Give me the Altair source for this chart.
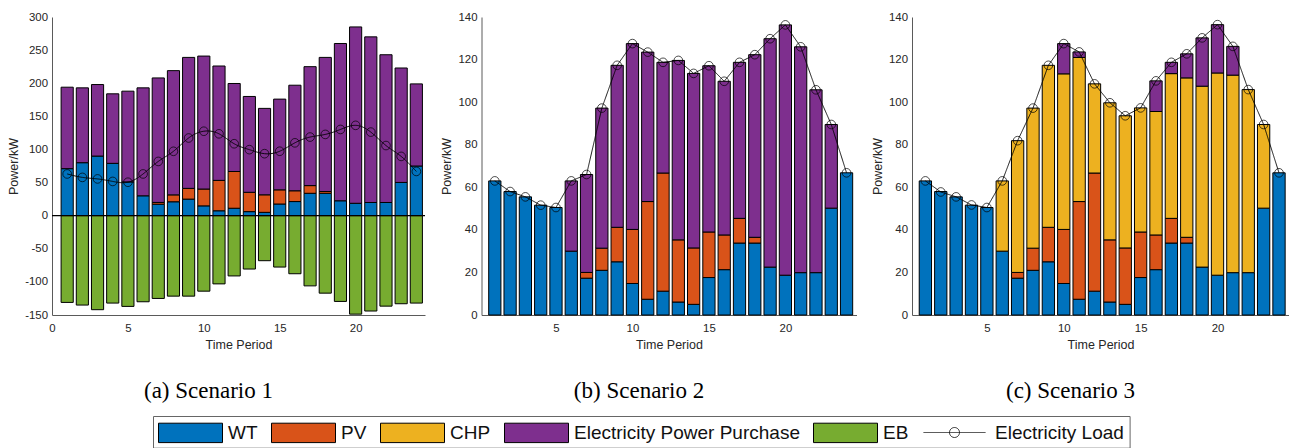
import altair as alt
import pandas as pd

T = list(range(1, 25))

SOURCES = ["WT", "PV", "CHP", "Electricity Power Purchase", "EB"]
COLORS = ["#0072BD", "#D95319", "#EDB120", "#7E2F8E", "#77AC30"]

# Scenario 1
WT_S1 = [71, 80, 90, 79, 51, 30, 17.3, 21, 25, 14.8, 7.4, 11.2, 6.1, 5, 17.6, 21.3, 33.8, 33.8, 22.5, 18.7, 19.9, 19.9, 50.2, 75]
PV_ALL = [0, 0, 0, 0, 0, 0, 2.7, 10.4, 16.2, 25.4, 45.9, 55.5, 29.2, 26.5, 21.4, 16.3, 11.6, 2.7, 0, 0, 0, 0, 0, 0]
BUY_S1 = [123, 113, 108, 105, 137, 163, 188, 187.6, 197.8, 200.8, 172.7, 132.9, 144.7, 130.5, 137, 159.4, 179.6, 202.5, 237.5, 266.3, 250.1, 223.1, 172.8, 124]
EB_S1 = [-131, -135, -142, -132, -137, -130, -125, -121.5, -121.5, -114, -103, -91, -80.6, -68, -77.6, -87.7, -106, -117, -129.5, -148.7, -144, -136.6, -133, -132]

# Scenarios 2 and 3
WT_S23 = [63, 58, 55.5, 51.6, 50.5, 30, 17.3, 21, 25, 14.8, 7.4, 11.2, 6.1, 5, 17.6, 21.3, 33.8, 33.8, 22.5, 18.7, 19.9, 19.9, 50.2, 66.8]
BUY_S2 = [0, 0, 0, 0, 0, 33, 46, 65.8, 76.1, 87.3, 70.2, 52, 84.3, 82, 78.1, 72.2, 73.3, 85.8, 107.3, 117.6, 106.1, 85.9, 39.3, 0]
LOAD_S2 = [63, 58, 55.5, 51.6, 50.5, 63, 66, 97.2, 117.3, 127.5, 123.5, 118.7, 119.6, 113.5, 117.1, 109.8, 118.7, 122.3, 129.8, 136.3, 126, 105.8, 89.5, 66.8]
CHP_S3 = [0, 0, 0, 0, 0, 33, 61.9, 65.8, 76.1, 73.1, 67.7, 41.9, 64.4, 62.1, 58.3, 58, 68, 74.9, 85, 95, 92.8, 86, 39.3, 0]
BUY_S3 = [0, 0, 0, 0, 0, 0, 0, 0, 0, 14.2, 2.6, 0, 0, 0, 0, 14.4, 5.3, 11.3, 22.7, 22.7, 13.5, 0, 0, 0]
LOAD_S3 = [63, 57.8, 55.5, 51.7, 50.5, 63, 81.9, 97.2, 117.3, 127.5, 123.6, 108.6, 99.7, 93.6, 97.3, 110, 118.7, 122.7, 130.2, 136.4, 126.2, 105.9, 89.5, 66.8]

X_TICKS_1 = [0, 5, 10, 15, 20]
X_TICKS_23 = [5, 10, 15, 20]
Y_TICKS_1 = [-150, -100, -50, 0, 50, 100, 150, 200, 250, 300]
Y_TICKS_23 = [0, 20, 40, 60, 80, 100, 120, 140]

CAPTIONS = ["(a) Scenario 1", "(b) Scenario 2", "(c) Scenario 3"]

FONT = "Liberation Sans"
TXT = "#262626"
AXC = "#5a5a5a"

# legend symbols (size 400 -> unit = 10 px)
RECT_PATH = "M-3.2,-0.97H3.2V0.97H-3.2Z"
LOAD_PATH = "M-3.1,0H3.1M0.5,0A0.5,0.5,0,1,1,-0.5,0A0.5,0.5,0,1,1,0.5,0"


def bar_frame(series):
    rows = []
    for src, vals in series:
        for t, v in zip(T, vals):
            if v != 0:
                rows.append({"t": t, "source": src, "value": v, "ord": SOURCES.index(src)})
    return pd.DataFrame(rows)


color_scale = alt.Scale(domain=SOURCES, range=COLORS)
color_legend = alt.Legend(
    orient="none", legendX=128, legendY=405, direction="horizontal", title=None,
    symbolType=RECT_PATH, symbolSize=400, symbolStrokeColor="black", symbolStrokeWidth=1,
    symbolOpacity=1, labelFont=FONT, labelFontSize=19, labelColor="#111", labelOffset=27,
    labelLimit=400, columnPadding=11, padding=0,
)
load_legend = alt.Legend(
    orient="none", legendX=892, legendY=405, title=None,
    symbolType=LOAD_PATH, symbolSize=400, symbolStrokeColor="black", symbolStrokeWidth=0.8,
    symbolFillColor="transparent", symbolOpacity=1,
    labelFont=FONT, labelFontSize=19, labelColor="#111", labelOffset=30, labelLimit=400, padding=0,
)


def axis_x(ticks):
    return alt.Axis(values=ticks, title="Time Period", grid=False, tickSize=0, labelPadding=7,
                    domainColor=AXC, labelFont=FONT, labelFontSize=11.4, labelColor=TXT,
                    titleFont=FONT, titleFontSize=12.5, titleFontWeight="normal", titleColor=TXT,
                    titlePadding=5, labelFlush=False, labelOverlap=False,
                    labelExpr="toString(datum.value)")


def axis_y(ticks):
    return alt.Axis(values=ticks, title="Power/kW", grid=False, tickSize=0, labelPadding=4.5,
                    domainColor=AXC, labelFont=FONT, labelFontSize=11.4, labelColor=TXT,
                    titleFont=FONT, titleFontSize=12.5, titleFontWeight="normal", titleColor=TXT,
                    titlePadding=4, labelOverlap=False, labelFlush=False,
                    labelExpr="toString(datum.value)")


def panel(series, load, xdom, xticks, ydom, yticks, caption, width, smooth):
    xs = alt.Scale(domain=xdom, nice=False, zero=False)
    ys = alt.Scale(domain=ydom, nice=False, zero=False)
    ax = axis_x(xticks)
    ay = axis_y(yticks)
    bars = alt.Chart(bar_frame(series)).transform_calculate(
        x0="datum.t - 0.4", x1="datum.t + 0.4"
    ).transform_stack(
        stack="value", groupby=["t"], as_=["y0", "y1"], offset="zero",
        sort=[alt.SortField("ord", order="ascending")],
    ).mark_bar(stroke="black", strokeWidth=1).encode(
        x=alt.X("x0:Q", scale=xs, axis=ax),
        x2="x1:Q",
        y=alt.Y("y0:Q", scale=ys, axis=ay),
        y2="y1:Q",
        color=alt.Color("source:N", scale=color_scale, legend=color_legend),
    )
    ldf = pd.DataFrame({"t": T, "load": load, "series": "Electricity Load"})
    line = alt.Chart(ldf).mark_line(color="black", strokeWidth=0.9,
                                    interpolate="natural" if smooth else "linear").encode(
        x=alt.X("t:Q", scale=xs, axis=ax), y=alt.Y("load:Q", scale=ys, axis=ay),
        strokeDash=alt.StrokeDash("series:N", scale=alt.Scale(domain=["Electricity Load"], range=[[1, 0]]),
                                  legend=load_legend),
    )
    pts = alt.Chart(ldf).mark_point(shape="circle", size=75, filled=False, color="black",
                                    strokeWidth=0.7, opacity=1).encode(
        x=alt.X("t:Q", scale=xs, axis=ax), y=alt.Y("load:Q", scale=ys, axis=ay))
    layers = [bars]
    if ydom[0] < 0:
        zero = alt.Chart(pd.DataFrame({"z": [0]})).mark_rule(color="black", strokeWidth=1.2).encode(
            y=alt.Y("z:Q", scale=ys, axis=ay))
        layers.append(zero)
    layers += [line, pts]
    return alt.layer(*layers).properties(
        width=width, height=298,
        title=alt.TitleParams(caption, orient="bottom", font="Liberation Serif", fontSize=23,
                              fontWeight="normal", color="black", frame="group", anchor="middle",
                              dx=-30, offset=29),
    )


p1 = panel([("WT", WT_S1), ("PV", PV_ALL), ("Electricity Power Purchase", BUY_S1), ("EB", EB_S1)],
           LOAD_S3, [0, 24.57], X_TICKS_1, [-150, 300], Y_TICKS_1, CAPTIONS[0], 373, True)
p2 = panel([("WT", WT_S23), ("PV", PV_ALL), ("Electricity Power Purchase", BUY_S2)],
           LOAD_S2, [0.13, 24.65], X_TICKS_23, [0, 140], Y_TICKS_23, CAPTIONS[1], 375, False)
p3 = panel([("WT", WT_S23), ("PV", PV_ALL), ("CHP", CHP_S3), ("Electricity Power Purchase", BUY_S3)],
           LOAD_S3, [0.13, 24.65], X_TICKS_23, [0, 140], Y_TICKS_23, CAPTIONS[2], 377, False)

row = alt.hconcat(p1, p2, p3, spacing=14.5)

spacer = alt.Chart(pd.DataFrame({"a": [0]})).mark_point(opacity=0).encode(
    x=alt.value(0), y=alt.value(0)).properties(width=96.4, height=31.7)
host = alt.Chart(pd.DataFrame({"a": [0]})).mark_point(opacity=0).encode(
    x=alt.value(0), y=alt.value(0)).properties(
    width=976.6, height=31.7, view=alt.ViewBackground(stroke="#666666", strokeWidth=1))
legend_row = alt.hconcat(spacer, host, spacing=0)

chart = alt.vconcat(row, legend_row, spacing=9).properties(
    padding={"left": 7, "top": 11, "right": 0, "bottom": 0},
    background="white",
).configure_view(stroke=None)

chart.save("out.html", embed_options={"renderer": "svg", "actions": False})
